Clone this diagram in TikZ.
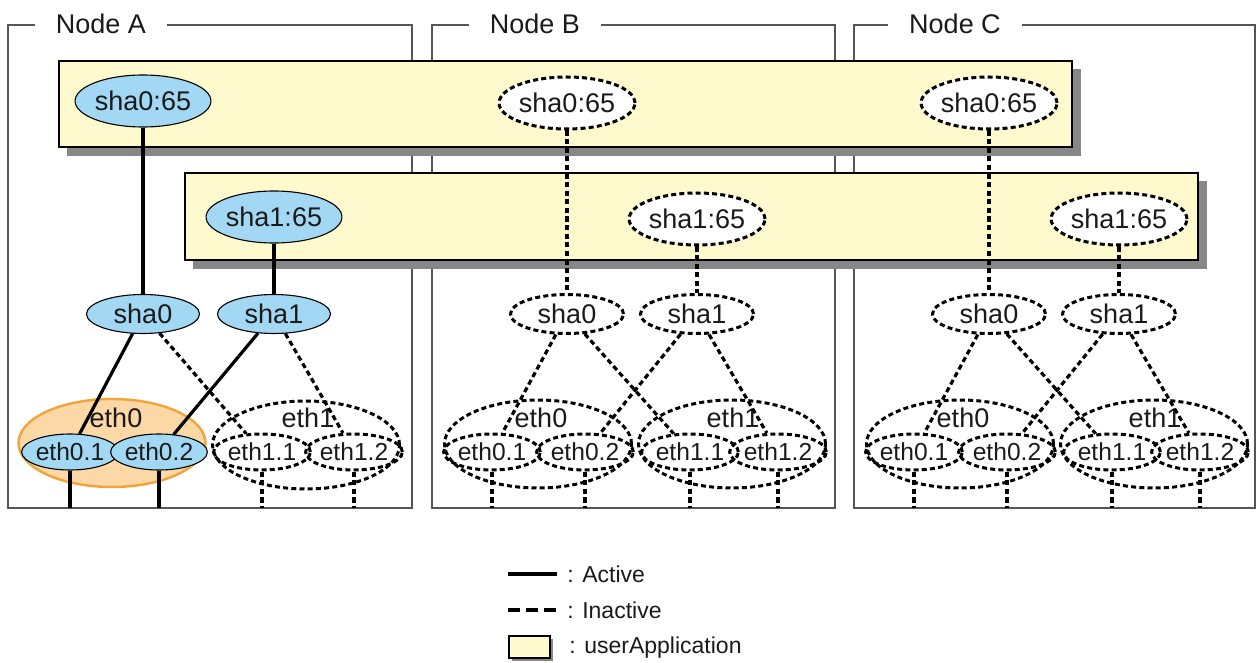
\documentclass[tikz,border=0pt]{standalone}
\usepackage{fontspec}
\setmainfont{Liberation Sans}
\usetikzlibrary{shapes.geometric}
\definecolor{uay}{HTML}{FFFACD}
\definecolor{shad}{HTML}{878787}
\definecolor{actb}{HTML}{A3D8F4}
\definecolor{orfill}{HTML}{FBD8A6}
\definecolor{ordraw}{HTML}{F2A43A}
\definecolor{frm}{HTML}{555555}
\definecolor{txt}{HTML}{1A1A1A}
\begin{document}
\begin{tikzpicture}[x=0.5pt,y=-0.5pt,
  lab/.style={font=\fontsize{13.5}{16}\selectfont, text=txt},
  sublab/.style={font=\fontsize{12.3}{14}\selectfont, text=txt},
  leg/.style={font=\fontsize{11.5}{14}\selectfont, text=txt, inner sep=0pt},
  app/.style={ellipse, minimum width=67pt, minimum height=26pt, inner sep=0pt, lab},
  mid/.style={ellipse, minimum width=56.5pt, minimum height=19.5pt, inner sep=0pt, lab},
  sub/.style={ellipse, minimum width=44pt, minimum height=18pt, inner sep=0pt, sublab},
  grp/.style={ellipse, minimum width=93.5pt, minimum height=44pt, inner sep=0pt},
  on/.style={draw=black, line width=0.55pt, fill=actb},
  off/.style={draw=black, line width=1.5pt, dash pattern=on 2.5pt off 1.6pt},
  offw/.style={off, fill=white},
  act/.style={draw=black, line width=1.6pt},
  inact/.style={draw=black, line width=1.6pt, dash pattern=on 2.6pt off 1.7pt},
  ua/.style={rectangle, draw=black, line width=0.6pt, fill=uay, inner sep=0pt},
  frame/.style={draw=frm, line width=0.75pt},
  title/.style={lab, fill=white, inner xsep=10.5pt, inner ysep=1pt}
]
\useasboundingbox (0,0) rectangle (1258,663);

% node frames
\draw[frame] (8,25) rectangle (412,508);
\draw[frame] (432,25) rectangle (835,508);
\draw[frame] (854,25) rectangle (1255,508);
\node[title] (tA) at (101,24) {Node A};
\node[title] (tB) at (535,24) {Node B};
\node[title] (tC) at (955,24) {Node C};

% userApplication boxes
\fill[shad] (67,69) rectangle (1081,156);
\node[ua, minimum width=506.5pt, minimum height=43pt] (ua0) at (565.5,104) {};
\fill[shad] (193,181) rectangle (1207,269);
\node[ua, minimum width=506.5pt, minimum height=43.5pt] (ua1) at (691.5,216.5) {};

% Node A
\node[app,on] (s065A) at (143,101) {sha0:65};
\node[app,on] (s165A) at (274,217) {sha1:65};
\node[mid,on] (s0A) at (143,314) {sha0};
\node[mid,on] (s1A) at (274,314) {sha1};
\node[grp, fill=orfill, draw=ordraw, line width=1.2pt] (g0A) at (112,443) {};
\node[lab, inner sep=0pt] (l0A) at (116,418) {eth0};
\node[sub,on] (e01A) at (70,452) {eth0.1};
\node[sub,on] (e02A) at (159,452) {eth0.2};
\node[grp,off] (g1A) at (306,445) {};
\node[lab, inner sep=0pt] (l1A) at (308,418) {eth1};
\node[sub,off] (e11A) at (262,452) {eth1.1};
\node[sub,off] (e12A) at (354,452) {eth1.2};
\coordinate (b01A) at (70,508);
\coordinate (b02A) at (159,508);
\coordinate (b11A) at (262,508);
\coordinate (b12A) at (354,508);
\draw[act] (s065A) -- (s0A);
\draw[act] (s165A) -- (s1A);
\draw[act] (s0A) -- (e01A);
\draw[inact] (s0A) -- (e11A);
\draw[act] (s1A) -- (e02A);
\draw[inact] (s1A) -- (e12A);
\draw[act] (e01A) -- (b01A);
\draw[act] (e02A) -- (b02A);
\draw[inact] (e11A) -- (b11A);
\draw[inact] (e12A) -- (b12A);

% Nodes B and C
\foreach \L/\n in {432/B, 854/C}{
  \node[app,offw] (s065\n) at ({\L+135},103) {sha0:65};
  \node[app,offw] (s165\n) at ({\L+265},219) {sha1:65};
  \node[mid,off] (s0\n) at ({\L+135},314) {sha0};
  \node[mid,off] (s1\n) at ({\L+265},314) {sha1};
  \node[grp,off] (g0\n) at ({\L+106},444) {};
  \node[lab, inner sep=0pt] (l0\n) at ({\L+109},418) {eth0};
  \node[sub,off] (e01\n) at ({\L+60},452) {eth0.1};
  \node[sub,off] (e02\n) at ({\L+153},452) {eth0.2};
  \node[grp,off] (g1\n) at ({\L+300},444) {};
  \node[lab, inner sep=0pt] (l1\n) at ({\L+301},418) {eth1};
  \node[sub,off] (e11\n) at ({\L+258},452) {eth1.1};
  \node[sub,off] (e12\n) at ({\L+346},452) {eth1.2};
  \coordinate (b01\n) at ({\L+60},508);
  \coordinate (b02\n) at ({\L+153},508);
  \coordinate (b11\n) at ({\L+258},508);
  \coordinate (b12\n) at ({\L+346},508);
  \draw[inact] (s065\n) -- (s0\n);
  \draw[inact] (s165\n) -- (s1\n);
  \draw[inact] (s0\n) -- (e01\n);
  \draw[inact] (s0\n) -- (e11\n);
  \draw[inact] (s1\n) -- (e02\n);
  \draw[inact] (s1\n) -- (e12\n);
  \draw[inact] (e01\n) -- (b01\n);
  \draw[inact] (e02\n) -- (b02\n);
  \draw[inact] (e11\n) -- (b11\n);
  \draw[inact] (e12\n) -- (b12\n);
}

% legend
\coordinate (la1) at (508,574);
\coordinate (la2) at (557,574);
\draw[act] (la1) -- (la2);
\node[leg, anchor=west] (lt1) at (567,574) {: Active};
\coordinate (li1) at (508,610);
\coordinate (li2) at (557,610);
\draw[draw=black, line width=1.6pt, dash pattern=on 6pt off 3pt] (li1) -- (li2);
\node[leg, anchor=west] (lt2) at (567,610) {: Inactive};
\fill[shad] (512,639) rectangle (553,661);
\node[ua, minimum width=20.5pt, minimum height=11pt] (lbox) at (529.5,647) {};
\node[leg, anchor=west] (lt3) at (569,648) {: userApplication};
\end{tikzpicture}
\end{document}
